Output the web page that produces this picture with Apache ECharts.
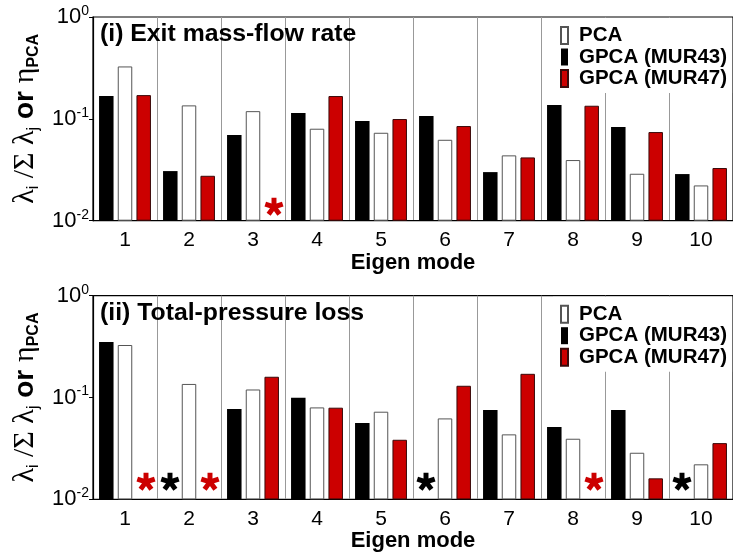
<!DOCTYPE html>
<html>
<head>
<meta charset="utf-8">
<script src="https://cdn.jsdelivr.net/npm/echarts@6/dist/echarts.min.js"></script>
<style>
  html, body { margin: 0; padding: 0; background: #fff; }
  #chart { width: 733px; height: 557px; }
</style>
</head>
<body>
<div id="chart"></div>
<script>
// ---- data -------------------------------------------------------------
const modes = ['1', '2', '3', '4', '5', '6', '7', '8', '9', '10'];
const seriesNames = ['GPCA (MUR43)', 'PCA', 'GPCA (MUR47)'];
const legendOrder = ['PCA', 'GPCA (MUR43)', 'GPCA (MUR47)'];
const panelTitles = ['(i) Exit mass-flow rate', '(ii) Total-pressure loss'];

// Normalised eigenvalues per mode; null = mode not present (drawn as an asterisk)
const exitMur43 = [0.168, 0.0307, 0.0693, 0.114, 0.095, 0.1065, 0.030, 0.137, 0.083, 0.0287];
const exitPca   = [0.327, 0.1356, 0.119, 0.080, 0.073, 0.0623, 0.0438, 0.0394, 0.0289, 0.0222];
const exitMur47 = [0.171, 0.0276, null, 0.1675, 0.0996, 0.085, 0.0418, 0.1345, 0.0742, 0.0329];

const lossMur43 = [0.351, null, 0.077, 0.0995, 0.0562, null, 0.0753, 0.0513, 0.0753, null];
const lossPca   = [0.328, 0.136, 0.120, 0.080, 0.0726, 0.0624, 0.0435, 0.0394, 0.0287, 0.0221];
const lossMur47 = [null, null, 0.160, 0.0795, 0.0385, 0.1305, 0.171, null, 0.0161, 0.0357];

// ---- styling ------------------------------------------------------------
const FONT = '"Liberation Sans", Arial, Helvetica, sans-serif';
const SERIF = '"Liberation Serif", "Times New Roman", serif';
const RED = '#cc0000';
const PLOT_LEFT = 93;
const PLOT_WIDTH = 643;
const PLOT_HEIGHT = 203.7;

const panels = [
  { title: panelTitles[0], values: [exitMur43, exitPca, exitMur47], top: 17, starLevel: 0.0137 },
  { title: panelTitles[1], values: [lossMur43, lossPca, lossMur47], top: 295.7, starLevel: 0.0149 }
];

const barStyles = [
  { color: '#000000', borderColor: '#000000', borderWidth: 0 },
  { color: '#ffffff', borderColor: '#555555', borderWidth: 1 },
  { color: RED, borderColor: '#3a0a0a', borderWidth: 1 }
];
const starOffsetX = [-19, 0, 21];
const starColors = ['#000000', '#000000', RED];

// five-armed asterisk used for missing modes (arm length 100)
function asteriskPath(halfWidth) {
  let d = '';
  for (let k = 0; k < 5; k++) {
    const t = k * 2 * Math.PI / 5;
    const dx = Math.sin(t), dy = -Math.cos(t);
    const px = Math.cos(t) * halfWidth, py = Math.sin(t) * halfWidth;
    const pts = [[-px, -py], [px, py], [100 * dx + px, 100 * dy + py], [100 * dx - px, 100 * dy - py]];
    d += 'M' + pts.map(q => q[0].toFixed(2) + ',' + q[1].toFixed(2)).join('L') + 'Z';
  }
  // filled hub in the middle
  const hub = [];
  for (let k = 0; k < 5; k++) {
    const t = (36 - k * 72) * Math.PI / 180;
    hub.push([Math.sin(t) * halfWidth * 1.5, -Math.cos(t) * halfWidth * 1.5]);
  }
  d += 'M' + hub.map(q => q[0].toFixed(2) + ',' + q[1].toFixed(2)).join('L') + 'Z';
  return 'path://' + d;
}
const STAR_PATH = asteriskPath(27);

const grids = [], xAxes = [], yAxes = [], series = [], legends = [], titles = [];

panels.forEach((p, pi) => {
  grids.push({
    left: PLOT_LEFT, width: PLOT_WIDTH, top: p.top, height: PLOT_HEIGHT,
    show: true, borderColor: '#000', borderWidth: 1.2, backgroundColor: 'transparent'
  });

  xAxes.push({
    type: 'category', gridIndex: pi, data: modes,
    axisLine: { lineStyle: { color: '#000', width: 1.2 } },
    axisTick: { show: false },
    axisLabel: { color: '#000', fontSize: 21, fontFamily: FONT, margin: 9 },
    splitLine: { show: true, lineStyle: { color: '#999999', width: 1 } },
    name: 'Eigen mode', nameLocation: 'middle', nameGap: 28,
    nameTextStyle: { color: '#000', fontSize: 22, fontWeight: 'bold', fontFamily: FONT }
  });

  yAxes.push({
    type: 'log', logBase: 10, gridIndex: pi, min: 0.01, max: 1, startValue: 0.01,
    axisLine: { show: true, lineStyle: { color: '#000', width: 1.2 } },
    axisTick: { show: true, inside: false, length: 4, lineStyle: { color: '#000' } },
    minorTick: { show: false },
    splitLine: { show: false },
    axisLabel: {
      margin: 4,
      formatter: v => '{b|10}{s|' + Math.round(Math.log10(v)) + '}',
      rich: {
        b: { fontSize: 22, fontFamily: FONT, color: '#000', lineHeight: 26 },
        s: { fontSize: 14, fontFamily: FONT, color: '#000', lineHeight: 14, verticalAlign: 'top' }
      }
    },
    name: '{g|λ}{s|i}{g| /Σ λ}{s|j}{o| or }{g|η}{p|PCA}',
    nameLocation: 'middle', nameRotate: 90, nameGap: 43,
    nameTextStyle: {
      color: '#000',
      rich: {
        g: { fontFamily: SERIF, fontSize: 30, lineHeight: 32, color: '#000' },
        s: { fontFamily: FONT, fontSize: 16, lineHeight: 13, verticalAlign: 'bottom', color: '#000' },
        o: { fontFamily: FONT, fontSize: 28, fontWeight: 'bold', lineHeight: 32, color: '#000' },
        p: { fontFamily: FONT, fontSize: 16, fontWeight: 'bold', lineHeight: 13, verticalAlign: 'bottom', color: '#000' }
      }
    }
  });

  const stars = [];
  p.values.forEach((vals, si) => {
    series.push({
      type: 'bar', name: seriesNames[si], xAxisIndex: pi, yAxisIndex: pi,
      data: vals, barWidth: 14.5, barGap: '29%',
      itemStyle: barStyles[si], silent: true
    });
    vals.forEach((v, mi) => {
      if (v === null) {
        stars.push({
          value: [modes[mi], p.starLevel],
          symbolOffset: [starOffsetX[si], 0],
          itemStyle: { color: starColors[si], opacity: 1 }
        });
      }
    });
  });
  series.push({
    type: 'scatter', xAxisIndex: pi, yAxisIndex: pi, data: stars,
    symbol: STAR_PATH, symbolSize: [19, 18], silent: true, z: 5,
    itemStyle: { opacity: 1 }
  });

  legends.push({
    data: legendOrder, orient: 'vertical', left: 553, top: p.top + 1,
    padding: [7, 5, 4, 7], itemGap: 0.5, itemWidth: 7, itemHeight: 17,
    icon: 'rect', backgroundColor: '#ffffff', selectedMode: false,
    textStyle: { color: '#000', fontSize: 20.5, fontWeight: 'bold', fontFamily: FONT, lineHeight: 20, padding: [0, 0, 0, 6] }
  });

  titles.push({
    text: p.title, left: 100, top: p.top + 5, padding: 0,
    textStyle: { color: '#000', fontSize: 24.8, fontWeight: 'bold', fontFamily: FONT }
  });
});

const chart = echarts.init(document.getElementById('chart'), null, { renderer: 'canvas' });
chart.setOption({
  animation: false,
  backgroundColor: '#ffffff',
  title: titles,
  legend: legends,
  grid: grids,
  xAxis: xAxes,
  yAxis: yAxes,
  series: series
});
</script>
</body>
</html>
